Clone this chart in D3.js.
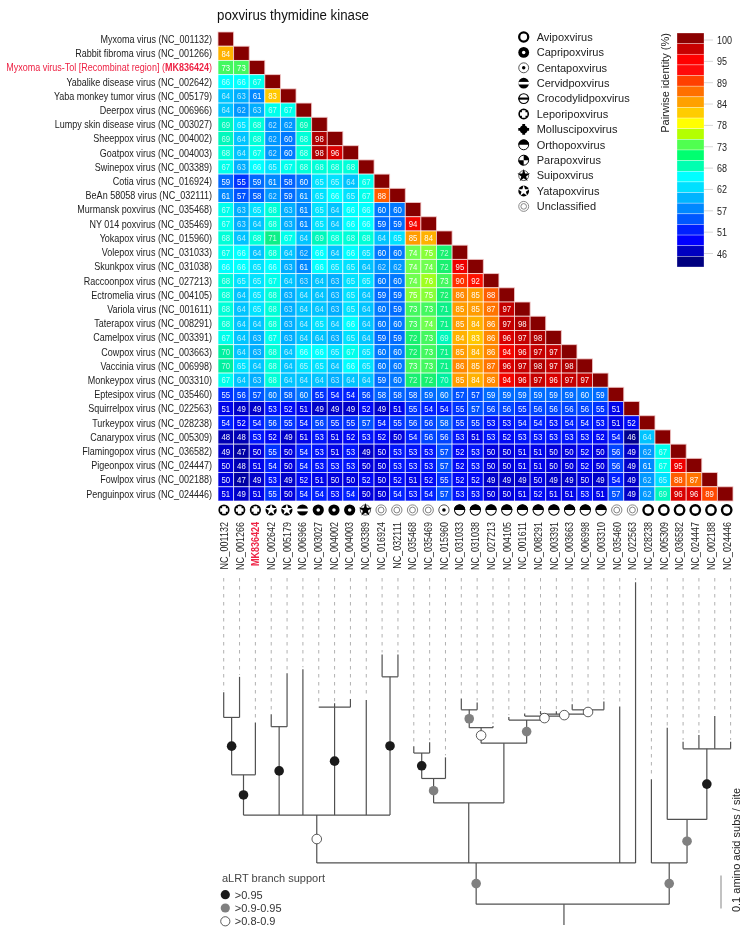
<!DOCTYPE html>
<html><head><meta charset="utf-8">
<script src="https://cdn.jsdelivr.net/npm/d3@7/dist/d3.min.js"></script>
<style>
html,body{margin:0;padding:0;background:#fff}
svg{display:block;filter:blur(.3px)}
text{font-family:"Liberation Sans",Arial,sans-serif}
</style></head><body>
<svg id="c" width="745" height="932"></svg>
<script>
const title = "poxvirus thymidine kinase";
const virusNames = ["Myxoma virus","Rabbit fibroma virus","Myxoma virus-Tol [Recombinat region]","Yabalike disease virus","Yaba monkey tumor virus","Deerpox virus","Lumpy skin disease virus","Sheeppox virus","Goatpox virus","Swinepox virus","Cotia virus","BeAn 58058 virus","Murmansk poxvirus","NY 014 poxvirus","Yokapox virus","Volepox virus","Skunkpox virus","Raccoonpox virus","Ectromelia virus","Variola virus","Taterapox virus","Camelpox virus","Cowpox virus","Vaccinia virus","Monkeypox virus","Eptesipox virus","Squirrelpox virus","Turkeypox virus","Canarypox virus","Flamingopox virus","Pigeonpox virus","Fowlpox virus","Penguinpox virus"];
const accessions = ["NC_001132","NC_001266","MK836424","NC_002642","NC_005179","NC_006966","NC_003027","NC_004002","NC_004003","NC_003389","NC_016924","NC_032111","NC_035468","NC_035469","NC_015960","NC_031033","NC_031038","NC_027213","NC_004105","NC_001611","NC_008291","NC_003391","NC_003663","NC_006998","NC_003310","NC_035460","NC_022563","NC_028238","NC_005309","NC_036582","NC_024447","NC_002188","NC_024446"];
const highlighted = "MK836424";
const identity = [
[],
[84],
[73,73],
[66,66,67],
[64,63,61,83],
[64,62,63,67,67],
[69,65,68,62,62,69],
[69,64,68,62,60,68,98],
[68,64,67,62,60,68,98,96],
[67,63,66,65,67,68,68,68,68],
[59,55,59,61,58,60,65,65,64,67],
[61,57,58,62,59,61,65,66,65,67,88],
[67,63,65,68,63,61,65,64,66,66,60,60],
[67,63,64,68,63,61,65,64,66,66,59,59,94],
[68,64,68,71,67,64,69,68,68,68,64,65,85,84],
[67,66,64,68,64,62,66,64,66,65,60,60,74,75,72],
[66,66,65,66,63,61,66,65,65,64,62,62,74,74,72,95],
[68,65,65,67,64,63,64,63,65,65,60,60,74,76,73,90,92],
[68,64,65,68,63,64,64,63,65,64,59,59,75,75,72,86,85,88],
[68,64,65,68,63,64,64,63,65,64,60,59,73,73,71,85,85,87,97],
[68,64,64,68,63,64,65,64,66,64,60,60,73,74,71,85,84,86,97,98],
[67,64,63,67,63,64,64,63,65,64,59,59,72,73,69,84,83,86,96,97,98],
[70,64,63,68,64,66,66,65,67,65,60,60,72,73,71,85,84,86,94,96,97,97],
[70,65,64,68,64,65,65,64,66,65,60,60,73,73,71,86,85,87,96,97,98,97,98],
[67,64,63,68,64,64,64,63,64,64,59,60,72,72,70,85,84,86,94,96,97,96,97,97],
[55,56,57,60,58,60,55,54,54,56,58,58,58,59,60,57,57,59,59,59,59,59,59,60,59],
[51,49,49,53,52,51,49,49,49,52,49,51,55,54,54,55,57,56,56,55,56,56,56,56,55,51],
[54,52,54,56,55,54,56,55,55,57,54,55,56,56,58,55,55,53,53,54,54,53,54,54,53,51,52],
[48,48,53,52,49,51,53,51,52,53,52,50,54,56,56,53,51,53,52,53,53,53,53,53,52,54,46,64],
[49,47,50,55,50,54,53,51,53,49,50,53,53,53,57,52,53,50,50,51,51,50,50,52,50,56,49,62,67],
[50,48,51,54,50,54,53,53,53,50,50,53,53,53,57,52,53,50,50,51,51,50,50,52,50,56,49,61,67,95],
[50,47,49,53,49,52,51,50,50,52,50,52,51,52,55,52,52,49,49,49,50,49,49,50,49,54,49,62,65,88,87],
[51,49,51,55,50,54,54,53,54,50,50,54,53,54,57,53,53,50,50,51,52,51,51,53,51,57,49,62,69,96,96,89]
];
const colorValues = [46,48,50,52,54,56,58,60,62,64,66,68,70,72,74,76,78,83,85,87,90,92,95,97,100];
const colorRange  = ["#000090","#0000b4","#0000dc","#0008f4","#0020ff","#0044ff","#0060ff","#0078ff","#0098ff","#00c4ff","#00ffff","#00ffd8","#00f0a0","#18f070","#70ff50","#a0ff20","#e0ff00","#ffc800","#ff9c00","#ff7400","#ff3000","#ff1000","#ee0000","#c40000","#860000"];
const legendSwatches = ["#8b0000","#c80000","#ff0000","#ff0a0a","#ff4000","#ff7000","#ffa000","#ffcc00","#ffff00","#b4ff00","#50ff50","#00ff70","#00ffb0","#00ffff","#00e0ff","#00b4ff","#0088ff","#0058ff","#0020ff","#0000ff","#0000c0","#000080"];
const legendTicks = [100,95,89,84,78,73,68,62,57,51,46];
const colorbarTitle = "Pairwise identity (%)";
const genera = ["Avipoxvirus","Capripoxvirus","Centapoxvirus","Cervidpoxvirus","Crocodylidpoxvirus","Leporipoxvirus","Molluscipoxvirus","Orthopoxvirus","Parapoxvirus","Suipoxvirus","Yatapoxvirus","Unclassified"];
const tipGenus = [5,5,5,10,10,3,1,1,1,9,11,11,11,11,2,7,7,7,7,7,7,7,7,7,7,11,11,0,0,0,0,0,0];
const supportLabels = [">0.95",">0.9-0.95",">0.8-0.9"];
const supportColors = ["#1a1a1a","#808080","#ffffff"];
const supportTitle = "aLRT branch support";
const scaleLabel = "0.1 amino acid subs / site";
const scaleLength = 0.1;
const rootStemTip = 21.48;
const tip = (t,d)=>({t,d});
const node = (d,s,...kids)=>({d,s,kids});
const phylogeny = node(0.063,-1,
  node(0.188,1,
    node(0.333,2,
      node(0.455,0,
        node(0.629,0,tip(0,0.705),tip(1,0.752)),
        tip(2,0.614)),
      node(0.601,0,tip(3,0.639),tip(4,0.763)),
      tip(5,0.775),
      node(0.660,0,tip(6,0.660),tip(7,0.672),tip(8,0.685)),
      tip(9,0.682),
      node(0.752,0,tip(10,0.820),tip(11,0.820))),
    node(0.370,-1,
      node(0.444,1,
        node(0.521,0,tip(12,0.542),tip(13,0.554)),
        tip(14,0.508)),
      node(0.551,-1,
        node(0.598,2,
          node(0.652,1,tip(15,0.686),tip(16,0.674)),
          tip(17,0.603)),
        node(0.621,1,
          tip(18,0.630),
          node(0.633,2,
            tip(19,0.641),
            node(0.639,2,
              tip(20,0.648),tip(21,0.648),
              node(0.652,2,tip(22,0.669),tip(23,0.658),tip(24,0.677))))))),
    tip(25,0.662),
    tip(26,1.039)),
  node(0.188,1,
    tip(27,0.442),
    node(0.320,1,
      tip(28,0.598),
      node(0.534,0,tip(29,0.555),tip(30,0.576),tip(31,0.633),tip(32,0.555)))));

const svg = d3.select("#c");
const n = virusNames.length, idx = d3.range(n);
const x = d3.scaleBand().domain(idx).range([218,733]);
const y = d3.scaleBand().domain(idx).range([32,501]);
const color = d3.scaleLinear().domain(colorValues).range(colorRange).clamp(true);
const RED = "#ee2244", TXT = "#222", SQ = 0.82;

svg.append("text").attr("x",217).attr("y",20).attr("font-size",15.2).attr("fill","#111")
  .attr("textLength",152).attr("lengthAdjust","spacingAndGlyphs").text(title);

// row labels
const rows = svg.append("g").selectAll("text").data(idx).join("text")
  .attr("transform",i=>`translate(212,${y(i)+y.bandwidth()/2+3.8}) scale(${SQ},1)`).attr("text-anchor","end").attr("font-size",11)
  .attr("fill",i=>accessions[i]===highlighted?RED:TXT);
rows.each(function(i){
  const t=d3.select(this);
  t.append("tspan").text(virusNames[i]+" (");
  t.append("tspan").attr("font-weight",accessions[i]===highlighted?"bold":null).text(accessions[i]);
  t.append("tspan").text(")");
});

// matrix
const cells = [];
identity.forEach((r,i)=>{ r.forEach((v,j)=>cells.push({i,j,v})); cells.push({i,j:i,v:100,diag:true}); });
const gc = svg.append("g");
gc.selectAll("rect").data(cells).join("rect")
  .attr("x",d=>x(d.j)).attr("y",d=>y(d.i)).attr("width",x.bandwidth()).attr("height",y.bandwidth())
  .attr("fill",d=>color(d.v)).attr("stroke",d=>d.diag?"#f3c9c9":"#ffffff").attr("stroke-opacity",d=>d.diag?0.9:0.7).attr("stroke-width",0.9);
gc.selectAll("text").data(cells.filter(d=>!d.diag)).join("text")
  .attr("transform",d=>`translate(${x(d.j)+x.bandwidth()/2},${y(d.i)+y.bandwidth()/2+3.3}) scale(${SQ},1)`).attr("text-anchor","middle")
  .attr("font-size",9.5).attr("fill","#fff").attr("fill-opacity",d=>d.v>=62&&d.v<=72?0.72:0.95).text(d=>d.v);

// symbol glyphs
const star5 = d3.symbol().type(d3.symbolStar);
function glyph(g,k,r){
  const ink="#000";
  const circ=(fill,stroke,w,rr=r)=>g.append("circle").attr("r",rr).attr("fill",fill).attr("stroke",stroke).attr("stroke-width",w);
  const clipArc=(a0,a1)=>d3.arc().innerRadius(0).outerRadius(r)({startAngle:a0,endAngle:a1});
  const pi=Math.PI;
  if(k===0){ circ("#fff",ink,r*0.42,r*0.84); }
  if(k===1){ circ(ink,"none",0); circ("#fff","none",0,r*0.32); }
  if(k===2){ circ("#fff","#333",r*0.15,r*0.92); circ(ink,"none",0,r*0.32); }
  if(k===3){ circ(ink,"none",0); g.append("rect").attr("x",-r).attr("width",2*r).attr("y",-r*0.24).attr("height",r*0.48).attr("fill","#fff"); }
  if(k===4){ circ("#fff",ink,r*0.2,r*0.9); g.append("rect").attr("x",-r).attr("width",2*r).attr("y",-r*0.2).attr("height",r*0.4).attr("fill",ink); }
  if(k===5){ circ(ink,"none",0); g.append("path").attr("d",`M${-r*.68},0H${r*.68}M0,${-r*.68}V${r*.68}`).attr("stroke","#fff").attr("stroke-width",r*0.66); }
  if(k===6){ circ(ink,"none",0,r*0.72); g.append("path").attr("d",`M${-r},0H${r}M0,${-r}V${r}`).attr("stroke",ink).attr("stroke-width",r*0.52); }
  if(k===7){ circ("#fff",ink,r*0.18,r*0.92); g.append("path").attr("d",clipArc(-pi/2,pi/2)).attr("fill",ink); }
  if(k===8){ circ("#fff",ink,r*0.18,r*0.92); g.append("path").attr("d",clipArc(0,pi/2)).attr("fill",ink); g.append("path").attr("d",clipArc(pi,1.5*pi)).attr("fill",ink); }
  if(k===9){ circ("#fff","#333",r*0.15,r*0.92); g.append("path").attr("d",star5.size(r*r*1.7)()).attr("fill",ink); }
  if(k===10){ circ(ink,"none",0); g.append("path").attr("d",star5.size(r*r*1.35)()).attr("fill","#fff"); }
  if(k===11){ circ("#fff","#777",r*0.16,r*0.92); circ("#fff","#777",r*0.16,r*0.52); }
}

// genus column row
const sx = d3.scalePoint().domain(idx).range([224,726.7]);
svg.append("g").selectAll("g").data(idx).join("g")
  .attr("transform",i=>`translate(${sx(i)},510)`).each(function(i){ glyph(d3.select(this),tipGenus[i],5.6); });
svg.append("g").selectAll("text").data(idx).join("text")
  .attr("transform",i=>`translate(${sx(i)+3.8},522) rotate(-90) scale(${SQ},1)`).attr("text-anchor","end").attr("font-size",11)
  .attr("fill",i=>accessions[i]===highlighted?RED:TXT).attr("font-weight",i=>accessions[i]===highlighted?"bold":null)
  .text(i=>accessions[i]);

// genus legend
const ly = d3.scalePoint().domain(genera).range([37,206.4]);
const lg = svg.append("g").selectAll("g").data(genera).join("g").attr("transform",d=>`translate(523.7,${ly(d)})`);
lg.each(function(d,k){ glyph(d3.select(this),k,5.4); });
lg.append("text").attr("x",13).attr("y",3.8).attr("font-size",11).attr("fill",TXT).text(d=>d);

// colour bar
const by = d3.scaleBand().domain(d3.range(legendSwatches.length)).range([33,267]);
svg.append("g").selectAll("rect").data(legendSwatches).join("rect")
  .attr("x",677).attr("width",27).attr("y",(d,i)=>by(i)).attr("height",by.bandwidth())
  .attr("fill",d=>d).attr("stroke","#fff").attr("stroke-opacity",.5).attr("stroke-width",.6);
const tickY = d3.scalePoint().domain(legendTicks).range([40,253.5]);
const tk = svg.append("g").selectAll("g").data(legendTicks).join("g").attr("transform",d=>`translate(704,${tickY(d)})`);
tk.append("line").attr("x2",9).attr("stroke","#ccc").attr("stroke-width",.8);
tk.append("text").attr("transform",`translate(13,4) scale(${SQ},1)`).attr("font-size",11).attr("fill",TXT).text(d=>d);
svg.append("text").attr("transform","translate(668.5,83) rotate(-90)").attr("text-anchor","middle").attr("font-size",11)
  .attr("fill",TXT).text(colorbarTitle);

// tree
const tx = d3.scaleLinear().domain([0,32]).range([223.7,730.6]);
const ty = d3.scaleLinear().domain([0,1]).range([925,595]);
function layout(nd){
  if(nd.kids){ nd.kids.forEach(layout); nd.xp=(nd.kids[0].xp+nd.kids[nd.kids.length-1].xp)/2; }
  else nd.xp=tx(nd.t);
  return nd;
}
layout(phylogeny);
const gt = svg.append("g");
const gd = gt.append("g"), gl = gt.append("g").attr("fill","none").attr("stroke","#505050").attr("stroke-width",1.2), gm = gt.append("g");
const markers=[];
function drawBranch(nd,parentD){
  gl.append("path").attr("d",`M${nd.xp},${ty(parentD)}V${ty(nd.d)}`);
  if(nd.kids){
    gl.append("path").attr("d",`M${nd.kids[0].xp},${ty(nd.d)}H${nd.kids[nd.kids.length-1].xp}`);
    if(nd.s>=0) markers.push({x:nd.xp,y:(ty(parentD)+ty(nd.d))/2,s:nd.s});
    nd.kids.forEach(k=>drawBranch(k,nd.d));
  } else {
    gd.append("line").attr("x1",nd.xp).attr("x2",nd.xp).attr("y1",578).attr("y2",ty(nd.d)-2)
      .attr("stroke","#a8a8a8").attr("stroke-width",.9).attr("stroke-dasharray","3.5,4.5");
  }
}
gl.append("path").attr("d",`M${tx(rootStemTip)},${ty(0)}V${ty(phylogeny.d)}`);
gl.append("path").attr("d",`M${phylogeny.kids[0].xp},${ty(phylogeny.d)}H${phylogeny.kids[1].xp}`);
phylogeny.kids.forEach(k=>drawBranch(k,phylogeny.d));
gm.selectAll("circle").data(markers).join("circle").attr("cx",d=>d.x).attr("cy",d=>d.y).attr("r",4.8)
  .attr("fill",d=>supportColors[d.s]).attr("stroke",d=>d.s===2?"#333":"none").attr("stroke-width",.8);

// support legend
svg.append("text").attr("x",222).attr("y",882).attr("font-size",11).attr("fill","#444").text(supportTitle);
const sl = svg.append("g").selectAll("g").data(supportLabels).join("g").attr("transform",(d,i)=>`translate(225.3,${894.7+i*13.3})`);
sl.append("circle").attr("r",4.6).attr("fill",(d,i)=>supportColors[i]).attr("stroke",(d,i)=>i===2?"#333":"none").attr("stroke-width",.8);
sl.append("text").attr("x",9.5).attr("y",3.8).attr("font-size",11).attr("fill","#333").text(d=>d);

// scale bar
svg.append("line").attr("x1",721).attr("x2",721).attr("y1",ty(0.05)).attr("y2",ty(0.05+scaleLength)).attr("stroke","#999").attr("stroke-width",1.2);
svg.append("text").attr("transform","translate(740,850) rotate(-90)").attr("text-anchor","middle").attr("font-size",11)
  .attr("fill",TXT).text(scaleLabel);
</script></body></html>
